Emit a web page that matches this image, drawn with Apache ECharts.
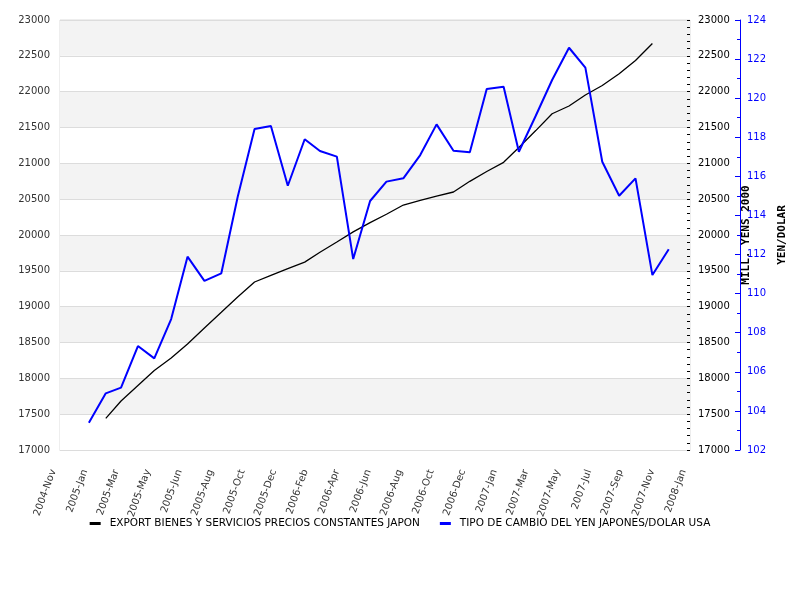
<!DOCTYPE html>
<html>
<head>
<meta charset="utf-8">
<script src="https://cdn.jsdelivr.net/npm/echarts@6/dist/echarts.min.js"></script>
<style>html,body{margin:0;padding:0;background:#fff}#c{width:800px;height:600px}</style>
</head>
<body>
<div id="c"></div>
<script>
// Tick labels of the date axis (21 evenly spaced ticks)
const xTickLabels = ['2004-Nov','2005-Jan','2005-Mar','2005-May','2005-Jun','2005-Aug','2005-Oct','2005-Dec','2006-Feb','2006-Apr','2006-Jun','2006-Aug','2006-Oct','2006-Dec','2007-Jan','2007-Mar','2007-May','2007-Jul','2007-Sep','2007-Nov','2008-Jan'];

// Monthly observation dates
const months = ['2005-01','2005-02','2005-03','2005-04','2005-05','2005-06','2005-07','2005-08','2005-09','2005-10','2005-11','2005-12',
                '2006-01','2006-02','2006-03','2006-04','2006-05','2006-06','2006-07','2006-08','2006-09','2006-10','2006-11','2006-12',
                '2007-01','2007-02','2007-03','2007-04','2007-05','2007-06','2007-07','2007-08','2007-09','2007-10','2007-11','2007-12'];

// EXPORT BIENES Y SERVICIOS PRECIOS CONSTANTES JAPON (mill. yens 2000)
const exportValues = [null,17442,17684,17899,18109,18284,18480,18702,18921,19135,19344,19438,
                      19530,19622,19759,19902,20043,20173,20289,20418,20484,20543,20600,20749,
                      20886,21014,21221,21457,21692,21800,21953,22086,22249,22435,22672,null];

// TIPO DE CAMBIO DEL YEN JAPONES/DOLAR USA
const fxValues = [103.40,104.90,105.19,107.32,106.69,108.70,111.89,110.65,111.04,114.94,118.42,118.58,
                  115.52,117.90,117.30,117.01,111.77,114.74,115.73,115.90,117.09,118.66,117.31,117.23,
                  120.47,120.59,117.26,119.10,120.93,122.58,121.56,116.75,115.01,115.90,110.95,112.27];

const seriesNames = ['EXPORT BIENES Y SERVICIOS PRECIOS CONSTANTES JAPON','TIPO DE CAMBIO DEL YEN JAPONES/DOLAR USA'];

// time -> axis units (one unit per tick step)
const T0 = Date.UTC(2004, 10, 9);
const STEP = 57.8 * 86400000;
function toX(ym) {
  const p = ym.split('-').map(Number);
  return (Date.UTC(p[0], p[1] - 1, 1) - T0) / STEP;
}
function build(vals) {
  const out = [];
  months.forEach((m, i) => { if (vals[i] != null) out.push([toX(m), vals[i]]); });
  return out;
}
const plain = v => String(v);
const PAD = '\u00a0\u00a0\u00a0\u00a0\u00a0\u00a0';

const chart = echarts.init(document.getElementById('c'), null, {renderer: 'canvas'});
const font = 'DejaVu Sans';
chart.setOption({
  animation: false,
  backgroundColor: '#fff',
  grid: {left: 60, right: 110, top: 20, bottom: 150, show: true, borderColor: '#dcdcdc', borderWidth: 1, backgroundColor: 'transparent'},
  legend: {
    bottom: 66, left: 'center', itemGap: 20, itemWidth: 11, itemHeight: 3, icon: 'rect',
    textStyle: {fontFamily: font, fontSize: 10.5, color: '#000', padding: [0,0,0,4]},
    data: [{name: seriesNames[0], itemStyle: {color: '#000'}}, {name: seriesNames[1], itemStyle: {color: '#0000ff'}}]
  },
  xAxis: {
    type: 'value', min: 0, max: 20, interval: 1,
    axisLine: {show: true, lineStyle: {color: '#dcdcdc'}},
    axisTick: {show: false},
    splitLine: {show: false},
    axisLabel: {formatter: v => (xTickLabels[Math.round(v)] || '') + PAD, rotate: 70, fontFamily: font, fontSize: 10, color: '#333',
                margin: 2, showMinLabel: true, showMaxLabel: true}
  },
  yAxis: [
    {
      type: 'value', position: 'left', min: 17000, max: 23000, interval: 500,
      axisLine: {show: false}, axisTick: {show: false},
      axisLabel: {formatter: plain, fontFamily: font, fontSize: 10, color: '#333', margin: 10},
      splitLine: {show: true, lineStyle: {color: '#dcdcdc', width: 1}},
      splitArea: {show: true, areaStyle: {color: ['#ffffff', '#f3f3f3']}}
    },
    {
      type: 'value', position: 'right', offset: 0, min: 17000, max: 23000, interval: 500,
      name: 'MILL. YENS 2000', nameLocation: 'middle', nameRotate: 90, nameGap: 27,
      nameTextStyle: {fontFamily: 'DejaVu Sans Mono', fontWeight: 'bold', fontSize: 11, color: '#000'},
      axisLine: {show: false},
      axisTick: {show: true, inside: true, length: 3, lineStyle: {color: '#000'}},
      minorTick: {show: true, splitNumber: 5, length: 3, lineStyle: {color: '#000'}},
      axisLabel: {formatter: plain, fontFamily: font, fontSize: 10, color: '#000', margin: 8},
      splitLine: {show: false}, splitArea: {show: false}
    },
    {
      type: 'value', position: 'right', offset: 50, min: 102, max: 124, interval: 2,
      name: 'YEN/DOLAR', nameLocation: 'middle', nameRotate: 90, nameGap: 28,
      nameTextStyle: {fontFamily: 'DejaVu Sans Mono', fontWeight: 'bold', fontSize: 11, color: '#000'},
      axisLine: {show: true, lineStyle: {color: '#0000ff', width: 1}},
      axisTick: {show: true, inside: true, length: 5, lineStyle: {color: '#0000ff'}},
      minorTick: {show: true, splitNumber: 2, length: 3, lineStyle: {color: '#0000ff'}},
      axisLabel: {formatter: plain, fontFamily: font, fontSize: 10, color: '#0000ff', margin: 7},
      splitLine: {show: false}, splitArea: {show: false}
    }
  ],
  series: [
    {name: seriesNames[0], type: 'line', yAxisIndex: 0, data: build(exportValues), showSymbol: false, symbol: 'none',
     lineStyle: {color: '#000', width: 1.3}, itemStyle: {color: '#000'}},
    {name: seriesNames[1], type: 'line', yAxisIndex: 2, data: build(fxValues), showSymbol: false, symbol: 'none',
     lineStyle: {color: '#0000ff', width: 2}, itemStyle: {color: '#0000ff'}}
  ]
});
</script>
</body>
</html>
